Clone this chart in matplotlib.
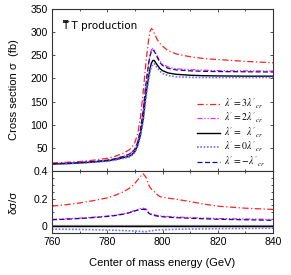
import matplotlib
matplotlib.use("Agg")
import matplotlib.pyplot as plt
from matplotlib.ticker import MultipleLocator, FixedLocator

plt.rcParams['font.family'] = ['Liberation Sans', 'DejaVu Sans']
plt.rcParams['mathtext.fontset'] = 'stix'

# energy grid (GeV)
energy = [760, 765, 770, 775, 780, 783, 786, 788, 789, 790, 791, 792, 793, 794, 795,
          795.5, 796, 796.5, 797, 798, 799, 800, 802, 805, 810, 815, 820, 830, 840]

# cross sections (fb)
sig_3cr = [17.5, 18.8, 20.5, 23.5, 27.5, 32, 39, 46, 52, 62, 80, 115, 170, 235, 285,
           302, 308, 305, 298, 285, 276, 270, 260, 253, 247, 243, 241, 237, 234]
sig_2cr = [16, 17, 18.5, 20.8, 23.5, 27, 32, 37, 41, 48, 63, 90, 132, 190, 236,
           252, 262, 265, 262, 250, 238, 231, 225, 221, 219, 218, 217, 216.5, 216]
sig_1cr = [15, 16, 17.5, 19.5, 22, 25, 29, 32, 36, 42, 55, 78, 112, 165, 205,
           222, 233, 239, 239, 230, 222, 217, 212, 209, 207, 206, 205.5, 205, 205]
sig_0cr = [14.7, 15.6, 17, 18.9, 21.2, 24, 27.8, 30.5, 34.3, 40, 52.5, 74.5, 107, 158, 197,
           214, 225, 231, 232, 224, 216, 211, 206.5, 203.5, 202.5, 202, 202, 202, 202]
sig_m1cr = [15.8, 16.8, 18.3, 20.6, 23.3, 26.8, 31.7, 36.6, 40.6, 47.5, 62, 89, 130, 187, 233,
            249, 259, 262, 259, 247, 235, 228, 222, 218.5, 216.5, 215.5, 215, 214.5, 214]

# relative deviation
d_3cr = [0.145, 0.155, 0.168, 0.185, 0.205, 0.225, 0.25, 0.275, 0.29, 0.31, 0.335, 0.36, 0.38, 0.355, 0.30,
         0.28, 0.268, 0.26, 0.25, 0.23, 0.215, 0.21, 0.203, 0.195, 0.178, 0.16, 0.145, 0.13, 0.121]
d_2cr = [0.049, 0.053, 0.058, 0.065, 0.073, 0.08, 0.09, 0.10, 0.106, 0.114, 0.121, 0.127, 0.13, 0.125, 0.10,
         0.092, 0.088, 0.085, 0.082, 0.078, 0.075, 0.073, 0.07, 0.066, 0.062, 0.058, 0.055, 0.052, 0.049]
d_1cr = [0.0] * len(energy)
d_0cr = [-0.022, -0.023, -0.024, -0.026, -0.028, -0.03, -0.032, -0.034, -0.035, -0.036, -0.037, -0.038, -0.04, -0.04, -0.037,
         -0.035, -0.033, -0.032, -0.03, -0.028, -0.027, -0.026, -0.025, -0.023, -0.021, -0.02, -0.019, -0.017, -0.015]
d_m1cr = [0.046, 0.05, 0.055, 0.062, 0.07, 0.077, 0.087, 0.097, 0.103, 0.11, 0.116, 0.121, 0.122, 0.118, 0.095,
          0.087, 0.083, 0.08, 0.077, 0.073, 0.07, 0.068, 0.065, 0.061, 0.057, 0.053, 0.05, 0.046, 0.042]

labels = [r"$\lambda' = 3\lambda'_{cr}$", r"$\lambda' = 2\lambda'_{cr}$",
          r"$\lambda' = \ \ \lambda'_{cr}$", r"$\lambda' = 0\lambda'_{cr}$",
          r"$\lambda' = -\lambda'_{cr}$"]

styles = [dict(color='#ff2020', ls=(0, (5, 2, 1, 2)), lw=0.9),
          dict(color='#ff20ff', ls=(0, (4, 1.5, 1, 1.5, 1, 1.5)), lw=0.9),
          dict(color='black', ls='-', lw=1.0),
          dict(color='#7070ff', ls=(0, (1, 1)), lw=1.2),
          dict(color='#101090', ls=(0, (4, 2)), lw=0.9)]

fig = plt.figure(figsize=(2.91, 2.75), dpi=100)
ax1 = fig.add_axes([0.1787, 0.378, 0.7595, 0.589])
ax2 = fig.add_axes([0.1787, 0.1527, 0.7595, 0.2255], sharex=ax1)

tops = [sig_3cr, sig_2cr, sig_1cr, sig_0cr, sig_m1cr]
bots = [d_3cr, d_2cr, d_1cr, d_0cr, d_m1cr]
ax2.axhline(0, color='#999999', lw=1.6, zorder=1)
for ys, yb, st, lb in zip(tops, bots, styles, labels):
    ax1.plot(energy, ys, label=lb, **st)
    ax2.plot(energy, yb, **st)

ax1.set_xlim(760, 840)
ax1.set_ylim(0, 350)
ax1.yaxis.set_major_locator(FixedLocator([50, 100, 150, 200, 250, 300, 350]))
ax2.set_ylim(-0.05, 0.4)
ax2.yaxis.set_major_locator(FixedLocator([0, 0.2, 0.4]))
ax2.yaxis.set_minor_locator(MultipleLocator(0.05))
ax2.set_yticklabels(['0', '0.2', '0.4'])
ax2.xaxis.set_major_locator(FixedLocator([760, 780, 800, 820, 840]))
ax2.xaxis.set_minor_locator(MultipleLocator(10))
plt.setp(ax1.get_xticklabels(), visible=False)

for ax in (ax1, ax2):
    ax.tick_params(which='both', direction='in', top=True, right=True, labelsize=7.5,
                   length=2.5, width=0.6, color='#333333', pad=3)
    ax.tick_params(which='minor', length=1.5)
    for s in ax.spines.values():
        s.set_linewidth(0.8)
        s.set_color('#333333')

ax1.set_ylabel("Cross section σ  (fb)", fontsize=8)
ax2.set_ylabel("δσ/σ", fontsize=8)
ax2.set_xlabel("Center of mass energy (GeV)", fontsize=8, labelpad=8)
ax1.yaxis.set_label_coords(-0.15, 0.5)
ax2.yaxis.set_label_coords(-0.15, 0.5)

ax1.text(0.045, 0.90, "T\u033f T production", transform=ax1.transAxes, fontsize=7.5,
         ha='left', va='center', family=['DejaVu Sans'])

ax1.legend(loc='upper left', bbox_to_anchor=(0.635, 0.49), frameon=False, fontsize=7,
           handlelength=2.3, handletextpad=0.5, labelspacing=0.0, borderpad=0)

fig.savefig("out.png", dpi=100)
